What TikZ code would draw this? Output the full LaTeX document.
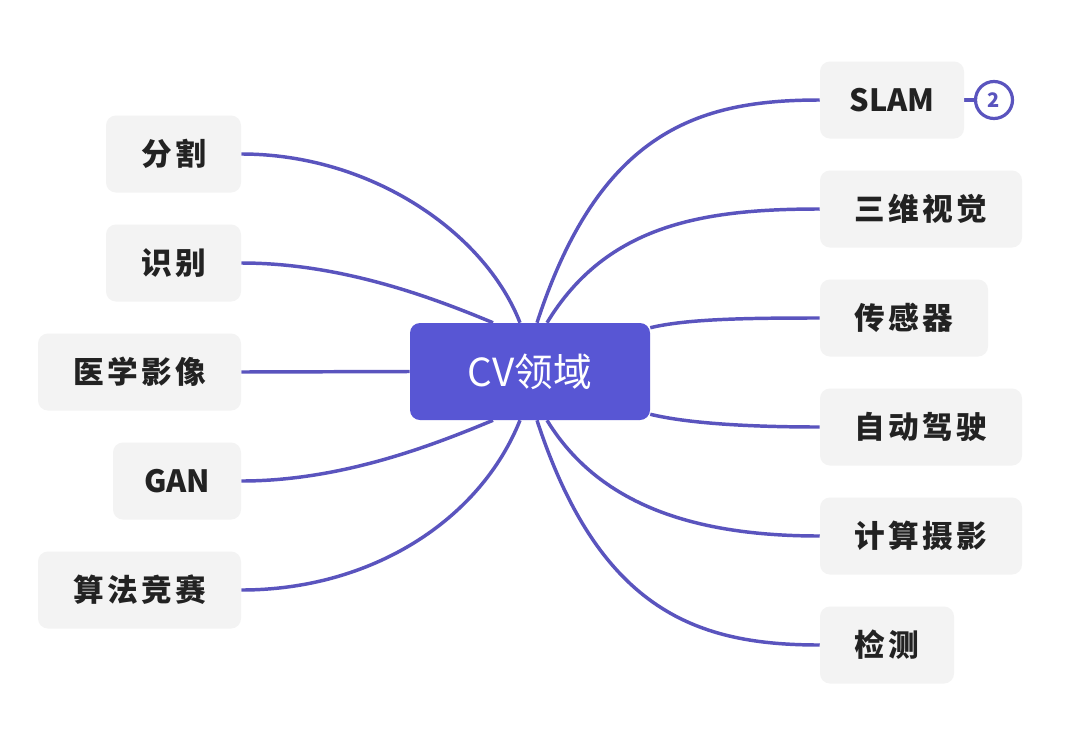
\documentclass[tikz,border=0pt]{standalone}
\usepackage{fontspec}
\newfontfamily\cjk{Noto Sans CJK SC}
\usetikzlibrary{calc,backgrounds}
\definecolor{hubfill}{RGB}{88,86,212}
\definecolor{link}{RGB}{90,84,190}
\definecolor{leaffill}{RGB}{243,243,243}
\definecolor{leaftext}{RGB}{34,34,34}
\begin{document}
\begin{tikzpicture}[x=0.75pt,y=-0.75pt,
  leaf/.style={fill=leaffill, rounded corners=7.5pt, minimum height=77*0.75pt,
    inner sep=0pt, text=leaftext, font={\cjk\bfseries\fontsize{23pt}{26pt}\selectfont}},
  hubstyle/.style={fill=hubfill, rounded corners=7.5pt, minimum width=240*0.75pt,
    minimum height=97*0.75pt, inner sep=0pt, text=white,
    font={\cjk\fontsize{29pt}{33pt}\selectfont}},
  badgestyle/.style={circle, draw=link, line width=2.4pt, fill=white,
    minimum size=37*0.75pt, inner sep=0pt, text=link,
    font={\cjk\bfseries\fontsize{15pt}{17pt}\selectfont}},
  branch/.style={draw=link, line width=2.6pt}]
\useasboundingbox (0,0) rectangle (1080,750);

\node[hubstyle] (hub) at (530,371.5) {CV领域};

\node[leaf, minimum width=135*0.75pt] (fenge) at (173.5,154) {分\hspace{2.5pt}割};
\node[leaf, minimum width=135*0.75pt] (shibie) at (173.5,263) {识\hspace{2.5pt}别};
\node[leaf, minimum width=203*0.75pt] (yixue) at (139.5,372) {医\hspace{2.5pt}学\hspace{2.5pt}影\hspace{2.5pt}像};
\node[leaf, minimum width=128*0.75pt] (gan) at (177,481) {GAN};
\node[leaf, minimum width=203*0.75pt] (suanfa) at (139.5,590) {算\hspace{2.5pt}法\hspace{2.5pt}竞\hspace{2.5pt}赛};

\node[leaf, minimum width=144*0.75pt] (slam) at (892,100) {SLAM};
\node[leaf, minimum width=202*0.75pt] (sanwei) at (921,209) {三\hspace{2.5pt}维\hspace{2.5pt}视\hspace{2.5pt}觉};
\node[leaf, minimum width=168*0.75pt] (chuan) at (904,318) {传\hspace{2.5pt}感\hspace{2.5pt}器};
\node[leaf, minimum width=202*0.75pt] (zidong) at (921,427) {自\hspace{2.5pt}动\hspace{2.5pt}驾\hspace{2.5pt}驶};
\node[leaf, minimum width=202*0.75pt] (jisuan) at (921,536) {计\hspace{2.5pt}算\hspace{2.5pt}摄\hspace{2.5pt}影};
\node[leaf, minimum width=134*0.75pt] (jiance) at (887,645) {检\hspace{2.5pt}测};

\node[badgestyle] (badge) at (994,100) {2};

\coordinate (t1) at ($(hub.north)+(-37,0)$);
\coordinate (t2) at ($(hub.north)+(-10,0)$);
\coordinate (t3) at ($(hub.north)+(7,0)$);
\coordinate (t4) at ($(hub.north)+(17,0)$);
\coordinate (b1) at ($(hub.south)+(-37,0)$);
\coordinate (b2) at ($(hub.south)+(-10,0)$);
\coordinate (b3) at ($(hub.south)+(7,0)$);
\coordinate (b4) at ($(hub.south)+(17,0)$);
\coordinate (r1) at ($(hub.north east)+(0,5)$);
\coordinate (r2) at ($(hub.south east)+(0,-6)$);

\begin{scope}[on background layer]
\fill[white] (0,0) rectangle (1080,750);
\draw[branch] (t2) .. controls +(-35,-90) and +(130,0) .. (fenge.east);
\draw[branch] (t1) .. controls +(-60,-25) and +(100,0) .. (shibie.east);
\draw[branch] (hub.west) -- (yixue.east);
\draw[branch] (b1) .. controls +(-60,25) and +(100,0) .. (gan.east);
\draw[branch] (b2) .. controls +(-40,100) and +(130,0) .. (suanfa.east);
\draw[branch] (t3) .. controls +(63,-193) and +(-120,0) .. (slam.west);
\draw[branch] (t4) .. controls +(60,-99) and +(-115,0) .. (sanwei.west);
\draw[branch] (r1) .. controls +(37,-9) and +(-71,0) .. (chuan.west);
\draw[branch] (r2) .. controls +(37,9) and +(-71,0) .. (zidong.west);
\draw[branch] (b4) .. controls +(55,90) and +(-115,0) .. (jisuan.west);
\draw[branch] (b3) .. controls +(63,193) and +(-120,0) .. (jiance.west);
\draw[branch] (slam.east) -- (badge.west);
\end{scope}
\end{tikzpicture}
\end{document}
